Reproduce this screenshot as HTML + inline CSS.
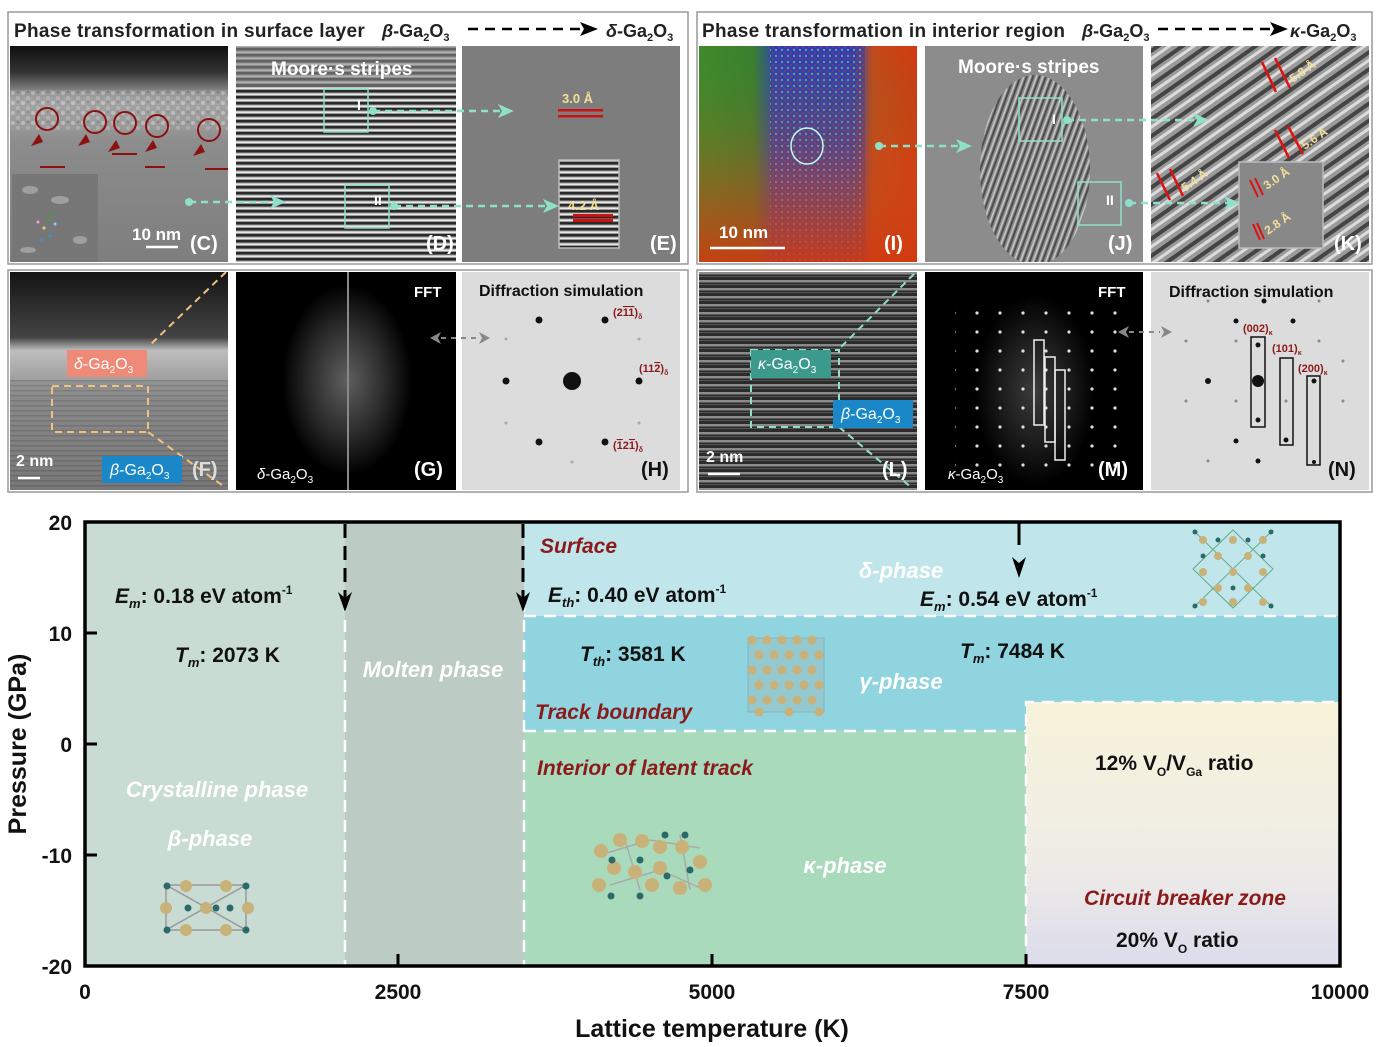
<!DOCTYPE html>
<html><head><meta charset="utf-8"><style>
html,body{margin:0;padding:0;background:#fff;}
svg{display:block;font-family:"Liberation Sans",Arial,sans-serif;font-weight:bold;}
</style></head><body>
<svg width="1379" height="1047" viewBox="0 0 1379 1047" xmlns="http://www.w3.org/2000/svg">
<defs>
<pattern id="hstripe" width="8" height="6" patternUnits="userSpaceOnUse"><rect width="8" height="6" fill="#9a9a9a"/><rect y="0" width="8" height="2.5" fill="#2a2a2a"/><rect y="3.5" width="8" height="1.5" fill="#e8e8e8"/></pattern>
<pattern id="hstripe2" width="8" height="5" patternUnits="userSpaceOnUse"><rect width="8" height="5" fill="#888"/><rect width="8" height="1.5" fill="#666"/></pattern>
<pattern id="dstripe" width="14" height="14" patternUnits="userSpaceOnUse" patternTransform="rotate(-35)"><rect width="14" height="14" fill="#9a9a9a"/><rect width="14" height="4" fill="#444"/><rect y="7" width="14" height="3" fill="#dcdcdc"/></pattern>
<pattern id="jstripe" width="6" height="10" patternUnits="userSpaceOnUse" patternTransform="rotate(20)"><rect width="6" height="10" fill="#8c8c8c"/><rect width="2" height="10" fill="#333"/><rect x="3.5" width="1.5" height="10" fill="#ddd"/></pattern>
<pattern id="latt" width="7" height="8" patternUnits="userSpaceOnUse"><rect width="7" height="8" fill="#2b2b2b"/><rect width="7" height="2.5" fill="#8a8a8a"/><rect y="4" width="7" height="1" fill="#555"/></pattern>
<pattern id="fdots" width="23" height="19" patternUnits="userSpaceOnUse"><rect width="23" height="19" fill="none"/><circle cx="11" cy="9" r="1.6" fill="#ddd"/></pattern>
<pattern id="noise" width="10" height="10" patternUnits="userSpaceOnUse"><rect width="10" height="10" fill="#9c9c9c"/><circle cx="3" cy="3" r="2" fill="#d8d8d8"/><circle cx="8" cy="8" r="2" fill="#c4c4c4"/><circle cx="8" cy="2" r="1" fill="#666"/></pattern>
<pattern id="ipat" width="6" height="6" patternUnits="userSpaceOnUse"><rect width="6" height="6" fill="#2a36c0"/><circle cx="2" cy="2" r="1.2" fill="#d7c93a"/><circle cx="5" cy="5" r="1" fill="#c23030"/></pattern>
<linearGradient id="cgrad" x1="0" y1="0" x2="0" y2="1"><stop offset="0" stop-color="#101010"/><stop offset="0.12" stop-color="#333"/><stop offset="0.25" stop-color="#aaa"/><stop offset="0.45" stop-color="#8c8c8c"/><stop offset="1" stop-color="#7e7e7e"/></linearGradient>
<linearGradient id="fgrad" x1="0" y1="0" x2="0" y2="1"><stop offset="0" stop-color="#141414"/><stop offset="0.3" stop-color="#444"/><stop offset="0.36" stop-color="#bdbdbd"/><stop offset="0.6" stop-color="#888"/><stop offset="1" stop-color="#666"/></linearGradient>
<linearGradient id="igrad" x1="0" y1="0" x2="1" y2="0"><stop offset="0" stop-color="#3f8a2a"/><stop offset="0.25" stop-color="#3a7f2e"/><stop offset="0.35" stop-color="#2e47b0"/><stop offset="0.7" stop-color="#2e47b0"/><stop offset="0.8" stop-color="#c24a1a"/><stop offset="1" stop-color="#d23a10"/></linearGradient>
<linearGradient id="ibot" x1="0" y1="0" x2="0" y2="1"><stop offset="0" stop-color="#3f8a2a" stop-opacity="0"/><stop offset="0.5" stop-color="#c8501a" stop-opacity="0.3"/><stop offset="1" stop-color="#d23a10" stop-opacity="0.9"/></linearGradient>
<radialGradient id="fftg"><stop offset="0" stop-color="#777"/><stop offset="0.6" stop-color="#333"/><stop offset="1" stop-color="#000"/></radialGradient>
<linearGradient id="cbz" x1="0" y1="0" x2="0" y2="1"><stop offset="0" stop-color="#f7f3da"/><stop offset="0.6" stop-color="#efece6"/><stop offset="1" stop-color="#dcdcec"/></linearGradient>
<marker id="ah" markerUnits="userSpaceOnUse" markerWidth="16" markerHeight="14" refX="12" refY="7" orient="auto"><path d="M0,0 L16,7 L0,14 L4,7z" fill="#8fe0c8"/></marker>
<marker id="ahk" markerUnits="userSpaceOnUse" markerWidth="18" markerHeight="14" refX="14" refY="7" orient="auto"><path d="M0,0 L18,7 L0,14 L4,7z" fill="#000"/></marker>
<clipPath id="cj"><rect x="925" y="46" width="218" height="216"/></clipPath>
</defs>

<!-- ===== Top-left group ===== -->
<rect x="8" y="12" width="680" height="252" fill="#fff" stroke="#999" stroke-width="1.5"/>
<text x="14" y="37" font-size="19" letter-spacing="0.3" fill="#222">Phase transformation in surface layer</text>
<text x="382" y="37" font-size="18" fill="#222"><tspan font-style="italic">β</tspan>-Ga<tspan font-size="11" dy="4">2</tspan><tspan dy="-4">O</tspan><tspan font-size="11" dy="4">3</tspan></text>
<line x1="468" y1="29" x2="594" y2="29" stroke="#000" stroke-width="2.5" stroke-dasharray="10,7" marker-end="url(#ahk)"/>
<text x="606" y="37" font-size="18" fill="#222"><tspan font-style="italic">δ</tspan>-Ga<tspan font-size="11" dy="4">2</tspan><tspan dy="-4">O</tspan><tspan font-size="11" dy="4">3</tspan></text>

<rect x="10" y="46" width="218" height="216" fill="url(#cgrad)"/>
<rect x="10" y="90" width="218" height="40" fill="url(#noise)" opacity="0.5"/>
<g fill="none" stroke="#8b1010" stroke-width="2">
<circle cx="47" cy="119" r="11"/><circle cx="95" cy="122" r="11"/><circle cx="125" cy="123" r="11"/><circle cx="157" cy="126" r="11"/><circle cx="209" cy="130" r="11"/>
<line x1="40" y1="167" x2="65" y2="167"/><line x1="112" y1="154" x2="137" y2="154"/><line x1="145" y1="167" x2="165" y2="167"/><line x1="205" y1="169" x2="228" y2="169"/></g>
<g fill="#8b1010"><path d="M31,146 l8,-12 l4,8z"/><path d="M78,146 l8,-12 l4,8z"/><path d="M108,152 l8,-12 l4,8z"/><path d="M145,152 l8,-12 l4,8z"/><path d="M193,156 l8,-12 l4,8z"/></g>
<rect x="12" y="174" width="86" height="88" fill="#777"/>
<g fill="#bbb" opacity="0.6"><ellipse cx="30" cy="190" rx="8" ry="4"/><ellipse cx="60" cy="200" rx="9" ry="4"/><ellipse cx="80" cy="240" rx="7" ry="4"/><ellipse cx="28" cy="250" rx="8" ry="3"/></g>
<g><circle cx="38" cy="222" r="1.5" fill="#f9c"/><circle cx="44" cy="228" r="1.5" fill="#fc6"/><circle cx="48" cy="220" r="1.5" fill="#3a3"/><circle cx="52" cy="214" r="1.5" fill="#3a3"/><circle cx="55" cy="224" r="1.5" fill="#8cf"/><circle cx="42" cy="240" r="1.5" fill="#39c"/><circle cx="50" cy="236" r="1.5" fill="#39c"/></g>
<text x="132" y="240" font-size="17" fill="#fff">10 nm</text>
<line x1="146" y1="247" x2="178" y2="247" stroke="#fff" stroke-width="2.5"/>
<text x="190" y="250" font-size="20" fill="#fff">(C)</text>

<rect x="236" y="46" width="220" height="216" fill="url(#hstripe)"/>
<rect x="236" y="46" width="220" height="40" fill="#888" opacity="0.6"/>
<text x="271" y="75" font-size="19" fill="#fff">Moore·s stripes</text>
<rect x="324" y="89" width="44" height="43" fill="none" stroke="#8fe0c8" stroke-width="1.5"/>
<text x="357" y="110" font-size="14" fill="#fff">I</text>
<rect x="345" y="185" width="44" height="43" fill="none" stroke="#8fe0c8" stroke-width="1.5"/>
<text x="374" y="205" font-size="14" fill="#fff">II</text>
<text x="426" y="250" font-size="20" fill="#fff">(D)</text>

<rect x="462" y="46" width="218" height="216" fill="#7d7d7d"/>
<text x="562" y="103" font-size="13" fill="#f3df9a">3.0 Å</text>
<rect x="558" y="109" width="45" height="2.5" fill="#d01010"/><rect x="558" y="115" width="45" height="2.5" fill="#d01010"/>
<rect x="559" y="160" width="60" height="88" fill="url(#hstripe)" stroke="#bbb" stroke-width="1.5"/>
<text x="568" y="210" font-size="13" fill="#f3df9a">4.2 Å</text>
<rect x="573" y="214" width="40" height="3" fill="#d01010"/><rect x="573" y="219" width="40" height="3" fill="#d01010"/>
<text x="650" y="250" font-size="20" fill="#fff">(E)</text>

<circle cx="189" cy="202" r="4" fill="#8fe0c8"/>
<line x1="189" y1="202" x2="282" y2="202" stroke="#8fe0c8" stroke-width="2.5" stroke-dasharray="7,5" marker-end="url(#ah)"/>
<circle cx="373" cy="111" r="4" fill="#8fe0c8"/>
<line x1="373" y1="111" x2="510" y2="111" stroke="#8fe0c8" stroke-width="2.5" stroke-dasharray="7,5" marker-end="url(#ah)"/>
<circle cx="394" cy="206" r="4" fill="#8fe0c8"/>
<line x1="394" y1="206" x2="555" y2="206" stroke="#8fe0c8" stroke-width="2.5" stroke-dasharray="7,5" marker-end="url(#ah)"/>

<!-- row 2 left -->
<rect x="8" y="270" width="680" height="222" fill="#fff" stroke="#999" stroke-width="1.5"/>
<rect x="10" y="272" width="218" height="218" fill="url(#fgrad)"/>
<rect x="10" y="380" width="218" height="110" fill="url(#hstripe2)" opacity="0.5"/>
<path d="M226,272 L150,345" stroke="#f0c080" stroke-width="2" stroke-dasharray="7,5"/>
<rect x="52" y="386" width="96" height="46" fill="none" stroke="#f0c080" stroke-width="2" stroke-dasharray="7,5"/>
<path d="M148,432 L226,488" stroke="#f0c080" stroke-width="2" stroke-dasharray="7,5"/>
<rect x="67" y="350" width="80" height="27" fill="#f08a78"/>
<text x="74" y="369" font-size="16" fill="#fff" font-weight="normal"><tspan font-style="italic">δ</tspan>-Ga<tspan font-size="10" dy="4">2</tspan><tspan dy="-4">O</tspan><tspan font-size="10" dy="4">3</tspan></text>
<rect x="102" y="456" width="80" height="27" fill="#1a88c8"/>
<text x="110" y="475" font-size="16" fill="#fff" font-weight="normal"><tspan font-style="italic">β</tspan>-Ga<tspan font-size="10" dy="4">2</tspan><tspan dy="-4">O</tspan><tspan font-size="10" dy="4">3</tspan></text>
<text x="16" y="466" font-size="16" fill="#fff">2 nm</text>
<line x1="18" y1="478" x2="40" y2="478" stroke="#fff" stroke-width="2.5"/>
<text x="192" y="476" font-size="20" fill="#ddd">(F)</text>

<rect x="236" y="272" width="220" height="218" fill="#000"/>
<ellipse cx="347" cy="380" rx="65" ry="95" fill="url(#fftg)" opacity="0.8"/>
<line x1="348" y1="272" x2="348" y2="490" stroke="#888" stroke-width="2"/>
<text x="414" y="297" font-size="15" fill="#fff">FFT</text>
<text x="257" y="479" font-size="15" fill="#fff" font-weight="normal"><tspan font-style="italic">δ</tspan>-Ga<tspan font-size="10" dy="4">2</tspan><tspan dy="-4">O</tspan><tspan font-size="10" dy="4">3</tspan></text>
<text x="414" y="476" font-size="20" fill="#fff">(G)</text>

<rect x="462" y="272" width="218" height="218" fill="#dcdcdc"/>
<text x="479" y="296" font-size="16" fill="#111">Diffraction simulation</text>
<g fill="#111"><circle cx="539" cy="320" r="3.5"/><circle cx="605" cy="320" r="3.5"/><circle cx="506" cy="381" r="3.5"/><circle cx="639" cy="381" r="3.5"/><circle cx="572" cy="381" r="9"/><circle cx="539" cy="442" r="3.5"/><circle cx="605" cy="442" r="3.5"/></g>
<g fill="#aaa"><circle cx="506" cy="339" r="1.5"/><circle cx="639" cy="339" r="1.5"/><circle cx="506" cy="423" r="1.5"/><circle cx="639" cy="423" r="1.5"/><circle cx="572" cy="462" r="1.5"/></g>
<text x="613" y="316" font-size="11" fill="#8b1a1a">(2<tspan text-decoration="overline">11</tspan>)<tspan font-size="7" dy="3">δ</tspan></text>
<text x="639" y="372" font-size="11" fill="#8b1a1a">(11<tspan text-decoration="overline">2</tspan>)<tspan font-size="7" dy="3">δ</tspan></text>
<text x="613" y="449" font-size="11" fill="#8b1a1a">(<tspan text-decoration="overline">1</tspan>2<tspan text-decoration="overline">1</tspan>)<tspan font-size="7" dy="3">δ</tspan></text>
<text x="641" y="476" font-size="20" fill="#111">(H)</text>
<path d="M430,338 l11,-6 l-3,6 l3,6z" fill="#888"/><line x1="441" y1="338" x2="478" y2="338" stroke="#888" stroke-width="2" stroke-dasharray="5,5"/><path d="M490,338 l-11,-6 l3,6 l-3,6z" fill="#888"/>

<!-- ===== Top-right group ===== -->
<rect x="697" y="12" width="675" height="252" fill="#fff" stroke="#999" stroke-width="1.5"/>
<text x="702" y="37" font-size="19" letter-spacing="0.3" fill="#222">Phase transformation in interior region</text>
<text x="1082" y="37" font-size="18" fill="#222"><tspan font-style="italic">β</tspan>-Ga<tspan font-size="11" dy="4">2</tspan><tspan dy="-4">O</tspan><tspan font-size="11" dy="4">3</tspan></text>
<line x1="1158" y1="29" x2="1284" y2="29" stroke="#000" stroke-width="2.5" stroke-dasharray="10,7" marker-end="url(#ahk)"/>
<text x="1290" y="37" font-size="18" fill="#222"><tspan font-style="italic">κ</tspan>-Ga<tspan font-size="11" dy="4">2</tspan><tspan dy="-4">O</tspan><tspan font-size="11" dy="4">3</tspan></text>

<rect x="699" y="46" width="218" height="216" fill="url(#igrad)"/>
<rect x="770" y="46" width="95" height="216" fill="url(#ipat)" opacity="0.55"/>
<rect x="699" y="46" width="218" height="216" fill="url(#ibot)"/>
<ellipse cx="807" cy="146" rx="16" ry="18" fill="none" stroke="#bfe" stroke-width="1.5"/>
<text x="719" y="238" font-size="17" fill="#fff">10 nm</text>
<line x1="710" y1="248" x2="785" y2="248" stroke="#fff" stroke-width="2.5"/>
<text x="884" y="250" font-size="20" fill="#fff">(I)</text>

<rect x="925" y="46" width="218" height="216" fill="#8c8c8c"/>
<ellipse cx="1035" cy="170" rx="55" ry="95" fill="url(#jstripe)" opacity="0.7" clip-path="url(#cj)"/>
<text x="958" y="73" font-size="19" fill="#fff">Moore·s stripes</text>
<rect x="1019" y="98" width="43" height="43" fill="none" stroke="#8fe0c8" stroke-width="1.5"/>
<text x="1052" y="124" font-size="14" fill="#fff">I</text>
<rect x="1078" y="182" width="43" height="43" fill="none" stroke="#8fe0c8" stroke-width="1.5"/>
<text x="1106" y="205" font-size="14" fill="#fff">II</text>
<text x="1108" y="250" font-size="20" fill="#fff">(J)</text>

<rect x="1151" y="46" width="218" height="216" fill="url(#dstripe)"/>
<g stroke="#e01010" stroke-width="2.5"><line x1="1262" y1="62" x2="1276" y2="92"/><line x1="1275" y1="58" x2="1290" y2="88"/><line x1="1275" y1="130" x2="1289" y2="158"/><line x1="1288" y1="126" x2="1303" y2="154"/><line x1="1157" y1="173" x2="1170" y2="200"/><line x1="1170" y1="169" x2="1183" y2="196"/></g>
<text x="1293" y="83" font-size="12" fill="#f3df9a" transform="rotate(-35 1293 83)">5.8 Å</text>
<text x="1305" y="150" font-size="12" fill="#f3df9a" transform="rotate(-35 1305 150)">5.6 Å</text>
<text x="1185" y="192" font-size="12" fill="#f3df9a" transform="rotate(-35 1185 192)">5.4 Å</text>
<rect x="1239" y="162" width="84" height="86" fill="#888" stroke="#bbb" stroke-width="1.5"/>
<g stroke="#e01010" stroke-width="2"><line x1="1250" y1="180" x2="1258" y2="197"/><line x1="1255" y1="178" x2="1263" y2="195"/><line x1="1253" y1="224" x2="1260" y2="240"/><line x1="1257" y1="223" x2="1264" y2="239"/></g>
<text x="1267" y="190" font-size="12" fill="#f3df9a" transform="rotate(-35 1267 190)">3.0 Å</text>
<text x="1268" y="235" font-size="12" fill="#f3df9a" transform="rotate(-35 1268 235)">2.8 Å</text>
<text x="1334" y="250" font-size="20" fill="#fff">(K)</text>

<circle cx="879" cy="146" r="4" fill="#8fe0c8"/>
<line x1="879" y1="146" x2="968" y2="146" stroke="#8fe0c8" stroke-width="2.5" stroke-dasharray="7,5" marker-end="url(#ah)"/>
<circle cx="1067" cy="120" r="4" fill="#8fe0c8"/>
<line x1="1067" y1="120" x2="1205" y2="120" stroke="#8fe0c8" stroke-width="2.5" stroke-dasharray="7,5" marker-end="url(#ah)"/>
<circle cx="1129" cy="203" r="4" fill="#8fe0c8"/>
<line x1="1129" y1="203" x2="1236" y2="203" stroke="#8fe0c8" stroke-width="2.5" stroke-dasharray="7,5" marker-end="url(#ah)"/>

<!-- row2 right -->
<rect x="697" y="270" width="675" height="222" fill="#fff" stroke="#999" stroke-width="1.5"/>
<rect x="699" y="272" width="218" height="218" fill="url(#latt)"/>
<path d="M914,274 L838,350" stroke="#8fe0c8" stroke-width="2" stroke-dasharray="7,5"/>
<rect x="751" y="350" width="88" height="77" fill="none" stroke="#8fe0c8" stroke-width="2" stroke-dasharray="7,5"/>
<path d="M839,427 L912,488" stroke="#8fe0c8" stroke-width="2" stroke-dasharray="7,5"/>
<rect x="751" y="350" width="80" height="28" fill="#3c9a8c"/>
<text x="758" y="369" font-size="16" fill="#fff" font-weight="normal"><tspan font-style="italic">κ</tspan>-Ga<tspan font-size="10" dy="4">2</tspan><tspan dy="-4">O</tspan><tspan font-size="10" dy="4">3</tspan></text>
<rect x="833" y="400" width="80" height="28" fill="#1a88c8"/>
<text x="841" y="419" font-size="16" fill="#fff" font-weight="normal"><tspan font-style="italic">β</tspan>-Ga<tspan font-size="10" dy="4">2</tspan><tspan dy="-4">O</tspan><tspan font-size="10" dy="4">3</tspan></text>
<text x="706" y="462" font-size="16" fill="#fff">2 nm</text>
<line x1="708" y1="474" x2="740" y2="474" stroke="#fff" stroke-width="2.5"/>
<text x="882" y="476" font-size="20" fill="#fff">(L)</text>

<rect x="925" y="272" width="218" height="218" fill="#000"/>
<ellipse cx="1035" cy="390" rx="60" ry="95" fill="url(#fftg)" opacity="0.5"/>
<rect x="955" y="300" width="165" height="170" fill="url(#fdots)"/>
<g fill="none" stroke="#eee" stroke-width="1.5"><rect x="1034" y="340" width="10" height="85"/><rect x="1045" y="357" width="10" height="85"/><rect x="1055" y="370" width="10" height="90"/></g>
<text x="1098" y="297" font-size="15" fill="#fff">FFT</text>
<text x="948" y="479" font-size="15" fill="#fff" font-weight="normal"><tspan font-style="italic">κ</tspan>-Ga<tspan font-size="10" dy="4">2</tspan><tspan dy="-4">O</tspan><tspan font-size="10" dy="4">3</tspan></text>
<text x="1098" y="476" font-size="20" fill="#fff">(M)</text>

<rect x="1151" y="272" width="218" height="218" fill="#dcdcdc"/>
<text x="1169" y="297" font-size="16" fill="#111">Diffraction simulation</text>
<g fill="#111"><circle cx="1264" cy="301" r="2.5"/><circle cx="1236" cy="321" r="2.5"/><circle cx="1293" cy="321" r="2.5"/><circle cx="1258" cy="345" r="2.5"/><circle cx="1208" cy="381" r="3"/><circle cx="1258" cy="381" r="6"/><circle cx="1314" cy="381" r="2.5"/><circle cx="1258" cy="420" r="2.5"/><circle cx="1286" cy="440" r="2.5"/><circle cx="1236" cy="441" r="2.5"/><circle cx="1258" cy="461" r="2.5"/><circle cx="1314" cy="462" r="2"/></g>
<g fill="#888"><circle cx="1208" cy="301" r="1.5"/><circle cx="1319" cy="301" r="1.5"/><circle cx="1186" cy="341" r="1.5"/><circle cx="1236" cy="341" r="1.5"/><circle cx="1319" cy="341" r="1.5"/><circle cx="1186" cy="401" r="1.5"/><circle cx="1236" cy="401" r="1.5"/><circle cx="1343" cy="401" r="1.5"/><circle cx="1208" cy="461" r="1.5"/><circle cx="1343" cy="361" r="1.5"/><circle cx="1286" cy="401" r="1.5"/></g>
<g fill="none" stroke="#111" stroke-width="1.5"><rect x="1251" y="337" width="14" height="90"/><rect x="1280" y="358" width="13" height="87"/><rect x="1307" y="376" width="13" height="89"/></g>
<text x="1243" y="332" font-size="11" fill="#8b1a1a">(002)<tspan font-size="7" dy="3">κ</tspan></text>
<text x="1272" y="352" font-size="11" fill="#8b1a1a">(101)<tspan font-size="7" dy="3">κ</tspan></text>
<text x="1298" y="372" font-size="11" fill="#8b1a1a">(200)<tspan font-size="7" dy="3">κ</tspan></text>
<text x="1328" y="476" font-size="20" fill="#111">(N)</text>
<path d="M1118,332 l11,-6 l-3,6 l3,6z" fill="#888"/><line x1="1129" y1="332" x2="1160" y2="332" stroke="#888" stroke-width="2" stroke-dasharray="5,5"/><path d="M1172,332 l-11,-6 l3,6 l-3,6z" fill="#888"/>

<!-- ===== Phase diagram ===== -->
<rect x="85" y="522" width="260" height="444" fill="#c8dcd3"/>
<rect x="345" y="522" width="179" height="444" fill="#bccbc3"/>
<rect x="524" y="522" width="816" height="94" fill="#c0e6ec"/>
<rect x="524" y="616" width="816" height="115" fill="#8fd4de"/>
<rect x="524" y="731" width="502" height="235" fill="#a9dabb"/>
<rect x="1026" y="702" width="314" height="264" fill="url(#cbz)"/>
<g stroke="#fff" stroke-width="2.5" stroke-dasharray="12,8" fill="none">
<line x1="345" y1="600" x2="345" y2="966"/><line x1="524" y1="600" x2="524" y2="966"/>
<line x1="524" y1="616" x2="1340" y2="616"/><line x1="524" y1="731" x2="1026" y2="731"/>
<polyline points="1026,966 1026,702 1340,702"/></g>
<g stroke="#000" stroke-width="3" stroke-dasharray="14,8"><line x1="345" y1="524" x2="345" y2="600"/><line x1="523" y1="524" x2="523" y2="600"/></g>
<path d="M338,592 L345,612 L352,592 L345,598z" fill="#000"/>
<path d="M516,592 L523,612 L530,592 L523,598z" fill="#000"/>
<line x1="1019" y1="522" x2="1019" y2="545" stroke="#000" stroke-width="3"/>
<path d="M1012,557 L1019,578 L1026,557 L1019,563z" fill="#000"/>
<rect x="85" y="522" width="1255" height="444" fill="none" stroke="#000" stroke-width="3.5"/>
<g stroke="#000" stroke-width="3"><line x1="85" y1="633" x2="97" y2="633"/><line x1="85" y1="744" x2="97" y2="744"/><line x1="85" y1="855" x2="97" y2="855"/><line x1="398" y1="966" x2="398" y2="954"/><line x1="712" y1="966" x2="712" y2="954"/><line x1="1026" y1="966" x2="1026" y2="954"/></g>
<g font-size="21" fill="#111" text-anchor="end"><text x="72" y="530">20</text><text x="72" y="641">10</text><text x="72" y="752">0</text><text x="72" y="863">-10</text><text x="72" y="974">-20</text></g>
<g font-size="21" fill="#111" text-anchor="middle"><text x="85" y="999">0</text><text x="398" y="999">2500</text><text x="712" y="999">5000</text><text x="1026" y="999">7500</text><text x="1340" y="999">10000</text></g>
<text x="712" y="1037" font-size="25" fill="#111" text-anchor="middle">Lattice temperature (K)</text>
<text transform="translate(26,744) rotate(-90)" font-size="25" fill="#111" text-anchor="middle">Pressure (GPa)</text>

<g font-size="21" fill="#111">
<text x="115" y="603"><tspan font-style="italic">E</tspan><tspan font-size="13" font-style="italic" dy="5">m</tspan><tspan dy="-5">: 0.18 eV atom</tspan><tspan font-size="12" dy="-9">-1</tspan></text>
<text x="175" y="662"><tspan font-style="italic">T</tspan><tspan font-size="13" font-style="italic" dy="5">m</tspan><tspan dy="-5">: 2073 K</tspan></text>
<text x="548" y="602"><tspan font-style="italic">E</tspan><tspan font-size="13" font-style="italic" dy="5">th</tspan><tspan dy="-5">: 0.40 eV atom</tspan><tspan font-size="12" dy="-9">-1</tspan></text>
<text x="580" y="661"><tspan font-style="italic">T</tspan><tspan font-size="13" font-style="italic" dy="5">th</tspan><tspan dy="-5">: 3581 K</tspan></text>
<text x="920" y="606"><tspan font-style="italic">E</tspan><tspan font-size="13" font-style="italic" dy="5">m</tspan><tspan dy="-5">: 0.54 eV atom</tspan><tspan font-size="12" dy="-9">-1</tspan></text>
<text x="960" y="658"><tspan font-style="italic">T</tspan><tspan font-size="13" font-style="italic" dy="5">m</tspan><tspan dy="-5">: 7484 K</tspan></text>
<text x="1095" y="770">12% V<tspan font-size="12" dy="6">O</tspan><tspan dy="-6">/V</tspan><tspan font-size="12" dy="6">Ga</tspan><tspan dy="-6"> ratio</tspan></text>
<text x="1116" y="947">20% V<tspan font-size="12" dy="6">O</tspan><tspan dy="-6"> ratio</tspan></text>
</g>
<g font-size="22" font-style="italic" fill="#fff" text-anchor="middle">
<text x="433" y="677">Molten phase</text><text x="217" y="797">Crystalline phase</text><text x="210" y="846">β-phase</text>
<text x="845" y="873">κ-phase</text><text x="901" y="578">δ-phase</text><text x="901" y="689">γ-phase</text></g>
<g font-size="21" font-style="italic" fill="#8b1a1a">
<text x="540" y="553">Surface</text><text x="535" y="719">Track boundary</text><text x="537" y="775">Interior of latent track</text>
<text x="1185" y="905" text-anchor="middle">Circuit breaker zone</text></g>

<!-- molecules -->
<g stroke="#999" stroke-width="1.5" fill="none"><rect x="166" y="885" width="80" height="45"/><line x1="166" y1="885" x2="246" y2="930"/><line x1="166" y1="930" x2="246" y2="885"/></g>
<g fill="#c9b27a"><circle cx="186" cy="886" r="6"/><circle cx="226" cy="886" r="6"/><circle cx="166" cy="908" r="6"/><circle cx="206" cy="908" r="6"/><circle cx="248" cy="908" r="6"/><circle cx="186" cy="930" r="6"/><circle cx="226" cy="930" r="6"/></g>
<g fill="#2c6a6a"><circle cx="167" cy="886" r="3.5"/><circle cx="246" cy="886" r="3.5"/><circle cx="188" cy="908" r="3.5"/><circle cx="216" cy="908" r="3.5"/><circle cx="230" cy="908" r="3.5"/><circle cx="167" cy="930" r="3.5"/><circle cx="246" cy="930" r="3.5"/></g>

<rect x="748" y="638" width="76" height="74" fill="#9bb" opacity="0.4" stroke="#789"/>
<g fill="#c9b27a">
<circle cx="752" cy="640" r="4.5"/><circle cx="767" cy="640" r="4.5"/><circle cx="782" cy="640" r="4.5"/><circle cx="797" cy="640" r="4.5"/><circle cx="812" cy="640" r="4.5"/>
<circle cx="759" cy="655" r="4.5"/><circle cx="774" cy="655" r="4.5"/><circle cx="789" cy="655" r="4.5"/><circle cx="804" cy="655" r="4.5"/><circle cx="819" cy="655" r="4.5"/>
<circle cx="752" cy="670" r="4.5"/><circle cx="767" cy="670" r="4.5"/><circle cx="782" cy="670" r="4.5"/><circle cx="797" cy="670" r="4.5"/><circle cx="812" cy="670" r="4.5"/>
<circle cx="759" cy="685" r="4.5"/><circle cx="774" cy="685" r="4.5"/><circle cx="789" cy="685" r="4.5"/><circle cx="804" cy="685" r="4.5"/><circle cx="819" cy="685" r="4.5"/>
<circle cx="752" cy="700" r="4.5"/><circle cx="767" cy="700" r="4.5"/><circle cx="782" cy="700" r="4.5"/><circle cx="797" cy="700" r="4.5"/><circle cx="812" cy="700" r="4.5"/>
<circle cx="759" cy="712" r="4.5"/><circle cx="789" cy="712" r="4.5"/><circle cx="819" cy="712" r="4.5"/></g>

<g stroke="#6a8" stroke-width="1" fill="none"><path d="M1193,530 L1273,608 M1273,530 L1193,608 M1193,569 L1233,530 L1273,569 L1233,608z"/></g>
<g fill="#c9b27a">
<circle cx="1203" cy="540" r="4"/><circle cx="1233" cy="540" r="4"/><circle cx="1263" cy="540" r="4"/>
<circle cx="1218" cy="556" r="4"/><circle cx="1248" cy="556" r="4"/>
<circle cx="1203" cy="572" r="4"/><circle cx="1233" cy="572" r="4"/><circle cx="1263" cy="572" r="4"/>
<circle cx="1218" cy="588" r="4"/><circle cx="1248" cy="588" r="4"/>
<circle cx="1203" cy="602" r="4"/><circle cx="1233" cy="602" r="4"/><circle cx="1263" cy="602" r="4"/></g>
<g fill="#2c6a6a"><circle cx="1195" cy="532" r="2.5"/><circle cx="1271" cy="532" r="2.5"/><circle cx="1195" cy="606" r="2.5"/><circle cx="1271" cy="606" r="2.5"/><circle cx="1218" cy="540" r="2.5"/><circle cx="1248" cy="540" r="2.5"/><circle cx="1203" cy="556" r="2.5"/><circle cx="1263" cy="556" r="2.5"/><circle cx="1233" cy="588" r="2.5"/></g>

<g stroke="#aaa" stroke-width="1.5" fill="none"><path d="M600,855 L650,840 L700,848 M610,885 L660,870 L705,890 M625,840 L640,890 M680,835 L690,890"/></g>
<g fill="#c9b27a">
<circle cx="601" cy="851" r="7"/><circle cx="620" cy="840" r="7"/><circle cx="642" cy="841" r="7"/><circle cx="660" cy="847" r="7"/><circle cx="682" cy="847" r="7"/>
<circle cx="614" cy="868" r="7"/><circle cx="635" cy="872" r="7"/><circle cx="660" cy="868" r="7"/><circle cx="700" cy="862" r="7"/>
<circle cx="599" cy="885" r="7"/><circle cx="652" cy="885" r="7"/><circle cx="680" cy="888" r="7"/><circle cx="705" cy="885" r="7"/></g>
<g fill="#2c6a6a"><circle cx="665" cy="835" r="3.5"/><circle cx="685" cy="835" r="3.5"/><circle cx="612" cy="860" r="3.5"/><circle cx="640" cy="860" r="3.5"/><circle cx="667" cy="876" r="3.5"/><circle cx="611" cy="896" r="3.5"/><circle cx="640" cy="896" r="3.5"/><circle cx="690" cy="870" r="3.5"/></g>
</svg>
</body></html>
